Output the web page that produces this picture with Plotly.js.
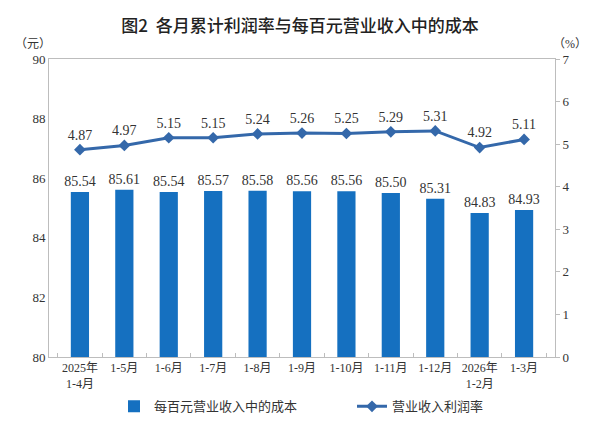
<!DOCTYPE html>
<html>
<head>
<meta charset="utf-8">
<script src="https://cdn.plot.ly/plotly-3.0.1.min.js"></script>
<style>html,body{margin:0;padding:0;background:#fff;}#chart{width:600px;height:430px;}</style>
</head>
<body>
<div id="chart"></div>
<script>
const categories = ['2025年<br>1-4月', '1-5月', '1-6月', '1-7月', '1-8月', '1-9月', '1-10月', '1-11月', '1-12月', '2026年<br>1-2月', '1-3月'];
const costPerHundred = [85.54, 85.61, 85.54, 85.57, 85.58, 85.56, 85.56, 85.50, 85.31, 84.83, 84.93];
const profitRate = [4.87, 4.97, 5.15, 5.15, 5.24, 5.26, 5.25, 5.29, 5.31, 4.92, 5.11];

const numFont = {family: '"Liberation Serif", "Noto Sans CJK SC", serif', size: 13, color: '#333'};
const labelFont = {family: '"Liberation Serif", "Noto Sans CJK SC", serif', size: 14, color: '#333'};
const cjkFont = {family: '"Liberation Serif", "Noto Sans CJK SC", serif', size: 12, color: '#333'};

const traces = [
  {
    type: 'bar', name: '每百元营业收入中的成本',
    x: categories, y: costPerHundred,
    marker: {color: '#1570c0'},
    text: costPerHundred.map(v => v.toFixed(2)),
    textposition: 'outside', textfont: labelFont, outsidetextfont: labelFont,
    constraintext: 'none', cliponaxis: false,
    yaxis: 'y'
  },
  {
    type: 'scatter', mode: 'lines+markers+text', name: '营业收入利润率',
    x: categories, y: profitRate,
    line: {color: '#3468aa', width: 3},
    marker: {symbol: 'diamond', size: 9, color: '#3468aa'},
    text: profitRate.map(v => v.toFixed(2)),
    textposition: 'top center', textfont: labelFont, cliponaxis: false,
    yaxis: 'y2'
  }
];

const layout = {
  width: 600, height: 430,
  margin: {l: 49, r: 45, t: 59, b: 73},
  paper_bgcolor: '#fff', plot_bgcolor: '#fff',
  title: {text: '图2  各月累计利润率与每百元营业收入中的成本', x: 0.5, xanchor: 'center', y: 0.94, yanchor: 'middle',
          font: {family: '"Noto Sans CJK SC", sans-serif', size: 17, color: '#222', weight: 500}},
  bargap: 0.59,
  showlegend: true,
  legend: {orientation: 'h', x: 0.19, xanchor: 'left', xref: 'container', y: 0.055, yref: 'container', yanchor: 'middle',
           font: {family: '"Liberation Serif", "Noto Sans CJK SC", serif', size: 13, color: '#333'},
           entrywidth: 193, entrywidthmode: 'pixels'},
  xaxis: {
    type: 'category', tickfont: cjkFont, tickangle: 0, automargin: false,
    showline: true, linecolor: '#bdbdbd', linewidth: 1, mirror: true,
    ticks: 'inside', tickson: 'boundaries', ticklen: 4, tickcolor: '#bdbdbd',
    showgrid: false, zeroline: false
  },
  yaxis: {
    range: [80, 90], dtick: 2, tickfont: numFont, automargin: false,
    showline: true, linecolor: '#bdbdbd', linewidth: 1, mirror: true,
    showgrid: false, zeroline: false, ticks: ''
  },
  yaxis2: {
    overlaying: 'y', side: 'right', range: [0, 7], dtick: 1, tickfont: numFont, automargin: false,
    showgrid: false, zeroline: false, showline: false,
    ticks: 'outside', ticklen: 4, tickcolor: '#bdbdbd'
  },
  annotations: [
    {text: '（元）', xref: 'paper', yref: 'paper', x: -0.032, y: 1.05, xanchor: 'center', yanchor: 'middle', showarrow: false,
     font: {family: '"Liberation Serif", "Noto Sans CJK SC", serif', size: 12, color: '#333'}},
    {text: '（%）', xref: 'paper', yref: 'paper', x: 1.03, y: 1.05, xanchor: 'center', yanchor: 'middle', showarrow: false,
     font: {family: '"Liberation Serif", "Noto Sans CJK SC", serif', size: 12, color: '#333'}}
  ]
};

Plotly.newPlot('chart', traces, layout, {displayModeBar: false, staticPlot: true});
</script>
</body>
</html>
